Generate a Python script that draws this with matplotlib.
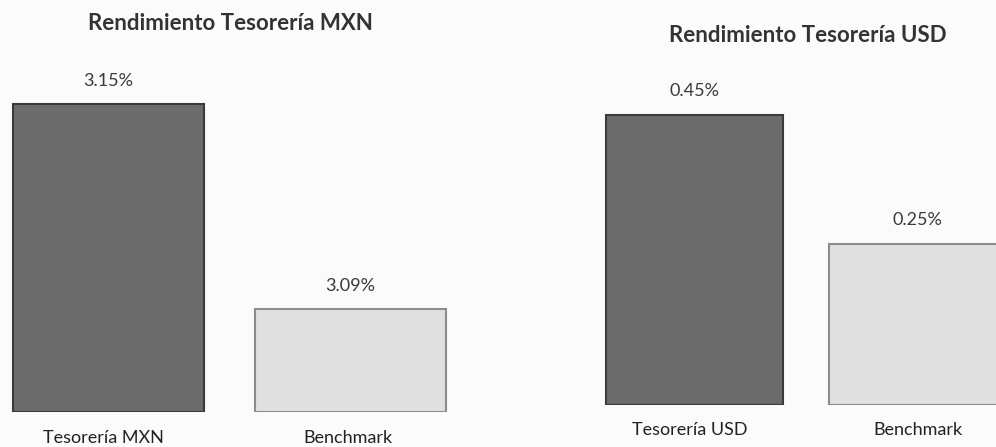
import matplotlib
matplotlib.use('Agg')
import matplotlib.pyplot as plt

# data
mxn_labels = ["Tesorería MXN", "Benchmark"]
mxn_values = [3.15, 3.09]
usd_labels = ["Tesorería USD", "Benchmark"]
usd_values = [0.45, 0.25]

plt.rcParams['font.family'] = ['Lato', 'DejaVu Sans']

W, H = 996, 447
fig = plt.figure(figsize=(W / 100, H / 100), dpi=100, facecolor='#fbfbfb')

bar_colors = ['#6c6c6c', '#e0e0e0']
edge_colors = ['#3a3a3a', '#8c8c8c']


def px_axes(x0, x1, y_top, y_bot):
    # axes rect from pixel coords (y measured from top)
    return fig.add_axes([x0 / W, 1 - y_bot / H, (x1 - x0) / W, (y_bot - y_top) / H])


def draw_panel(ax, values):
    xs = list(range(len(values)))
    base = ax.get_ylim()[0]
    ax.bar(xs, [v - base for v in values], bottom=base,
           width=0.79, color=bar_colors, edgecolor=edge_colors, linewidth=1.5)
    for x, v in zip(xs, values):
        ax.annotate(f"{v:.2f}%", (x, v), xytext=(0, 17), textcoords='offset points',
                    ha='center', va='center', fontsize=13, color='#3a3a3a')
    ax.axis('off')
    ax.set_facecolor('none')


# left panel: axis starts at 3.06
ax1 = px_axes(0, 500, 60, 412)
ax1.set_xlim(-0.448, 1.618)
ax1.set_ylim(3.06, 3.163)
draw_panel(ax1, mxn_values)
for x, lab in zip([103, 348], mxn_labels):
    fig.text(x / W, 1 - 438 / H, lab, ha='center', va='center', fontsize=13, color='#222222')
fig.text(230 / W, 1 - 23 / H, "Rendimiento Tesorería MXN", ha='center', va='center',
         fontsize=16, fontweight='bold', color='#333333')

# right panel: axis starts at 0
ax2 = px_axes(500, 996, 60, 405)
ax2.set_xlim(-0.872, 1.352)
ax2.set_ylim(0, 0.535)
draw_panel(ax2, usd_values)
for x, lab in zip([690, 918], usd_labels):
    fig.text(x / W, 1 - 430 / H, lab, ha='center', va='center', fontsize=13, color='#222222')
fig.text(808 / W, 1 - 35 / H, "Rendimiento Tesorería USD", ha='center', va='center',
         fontsize=16, fontweight='bold', color='#333333')

fig.savefig("out.png", dpi=100, facecolor=fig.get_facecolor())
